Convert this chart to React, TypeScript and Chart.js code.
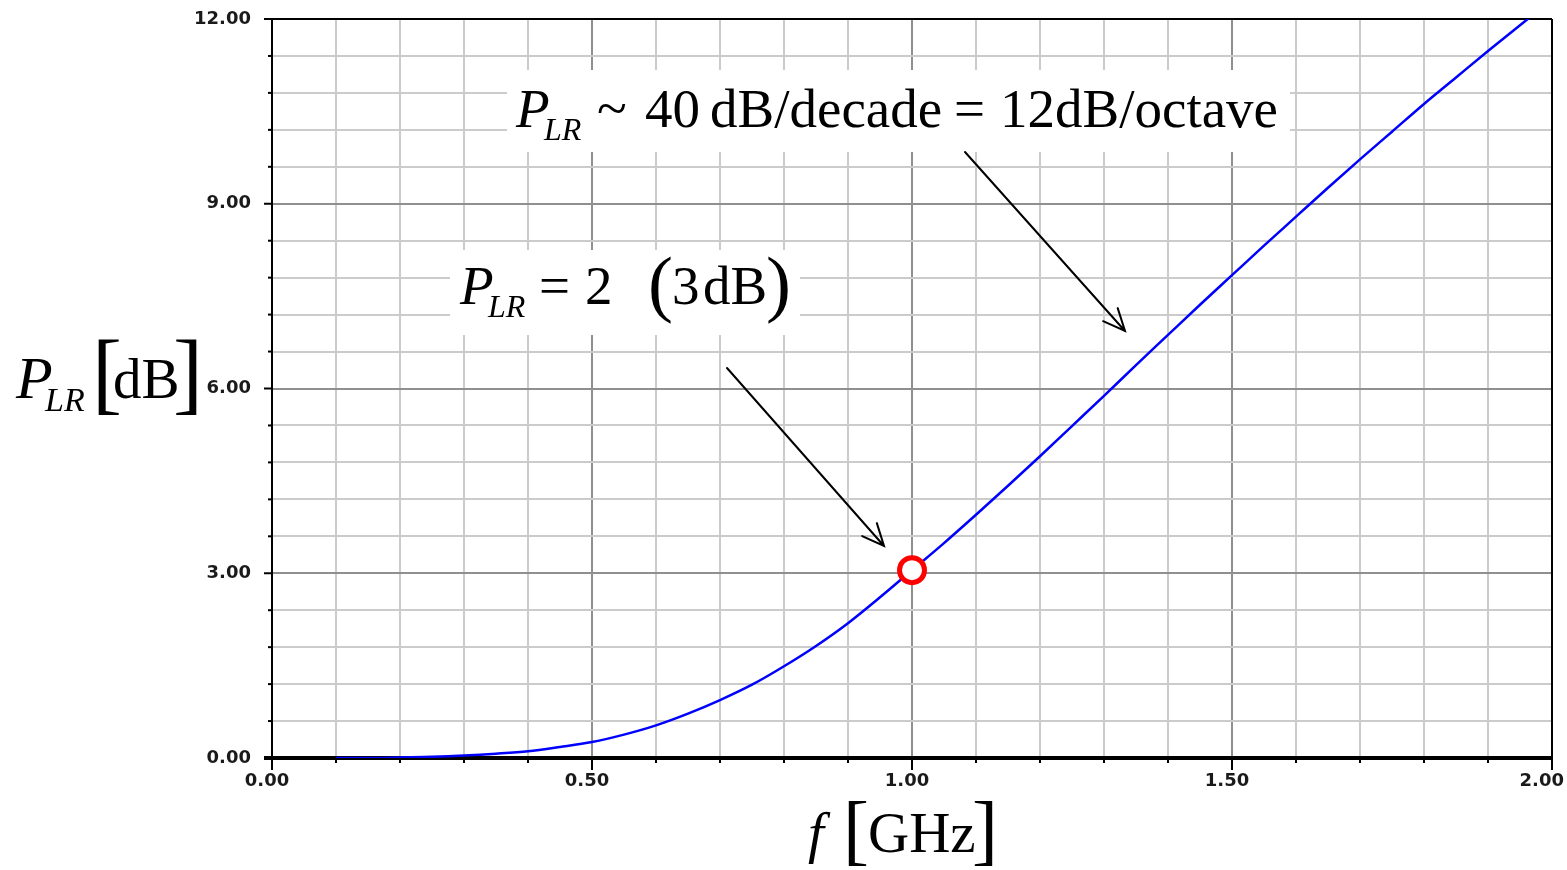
import { useEffect, useRef } from "react";
import { Chart, registerables } from "chart.js";

Chart.register(...registerables);

// Frequency samples (GHz) and the insertion-loss curve P_LR (dB)
const freqGHz = [
  0.1, 0.15, 0.2, 0.25, 0.3, 0.35, 0.4, 0.45, 0.5, 0.55, 0.6, 0.65, 0.7, 0.75,
  0.8, 0.85, 0.9, 0.95, 1.0, 1.05, 1.1, 1.15, 1.2, 1.25, 1.3, 1.35, 1.4, 1.45,
  1.5, 1.55, 1.6, 1.65, 1.7, 1.75, 1.8, 1.85, 1.9, 1.95, 2.0,
];
const plrDb = [
  0.0, 0.0, 0.01, 0.02, 0.04, 0.07, 0.11, 0.18, 0.26, 0.38, 0.53, 0.72, 0.94,
  1.19, 1.49, 1.82, 2.19, 2.61, 3.05, 3.49, 3.95, 4.42, 4.9, 5.39, 5.88, 6.38,
  6.87, 7.36, 7.84, 8.32, 8.79, 9.26, 9.72, 10.17, 10.62, 11.05, 11.48, 11.9,
  12.31,
];

// The cutoff point (P_LR = 2, i.e. 3 dB)
const markerFreq = [1.0];
const markerDb = [3.05];

// Axis labels
const xTickValues = [0, 0.5, 1.0, 1.5, 2.0];
const xTickLabels = ["0.00", "0.50", "1.00", "1.50", "2.00"];
const yTickValues = [0, 3, 6, 9, 12];
const yTickLabels = ["0.00", "3.00", "6.00", "9.00", "12.00"];

const SERIF = "'Liberation Serif', 'Times New Roman', serif";
const TICK_FONT = "bold 18px 'DejaVu Sans', sans-serif";

type Run = { t: string; x: number; y: number; font: string };

function drawRuns(ctx: CanvasRenderingContext2D, runs: Run[]) {
  ctx.fillStyle = "#000";
  ctx.textAlign = "left";
  ctx.textBaseline = "alphabetic";
  for (const r of runs) {
    ctx.font = r.font;
    ctx.fillText(r.t, r.x, r.y);
  }
}

function arrow(ctx: CanvasRenderingContext2D, x0: number, y0: number, x1: number, y1: number) {
  const ang = Math.atan2(y1 - y0, x1 - x0);
  const head = 24;
  const spread = 0.42;
  ctx.beginPath();
  ctx.moveTo(x0, y0);
  ctx.lineTo(x1, y1);
  ctx.moveTo(x1 - head * Math.cos(ang - spread), y1 - head * Math.sin(ang - spread));
  ctx.lineTo(x1, y1);
  ctx.lineTo(x1 - head * Math.cos(ang + spread), y1 - head * Math.sin(ang + spread));
  ctx.stroke();
}

const isMultiple = (v: number, step: number) => {
  const r = v / step;
  return Math.abs(r - Math.round(r)) < 1e-6;
};

const framePlugin = {
  id: "frame",
  beforeDatasetsDraw(chart: any) {
    const { ctx, chartArea: a, scales } = chart;
    const xs = scales.x;
    const ys = scales.y;
    ctx.save();
    ctx.strokeStyle = "#000";
    ctx.lineWidth = 2;
    // ticks outside the left axis
    ys.ticks.forEach((t: any) => {
      const py = ys.getPixelForValue(t.value);
      const len = isMultiple(t.value, 3) ? 8 : 4;
      ctx.beginPath();
      ctx.moveTo(a.left - len, py);
      ctx.lineTo(a.left, py);
      ctx.stroke();
    });
    // ticks below the bottom axis
    xs.ticks.forEach((t: any) => {
      const px = xs.getPixelForValue(t.value);
      const len = isMultiple(t.value, 0.5) ? 12 : 5;
      ctx.beginPath();
      ctx.moveTo(px, a.bottom);
      ctx.lineTo(px, a.bottom + len);
      ctx.stroke();
    });
    // box
    ctx.beginPath();
    ctx.moveTo(a.left, a.top);
    ctx.lineTo(a.left, a.bottom + 12);
    ctx.moveTo(a.right, a.top);
    ctx.lineTo(a.right, a.bottom + 12);
    ctx.moveTo(a.left - 8, a.top);
    ctx.lineTo(a.right, a.top);
    ctx.stroke();
    ctx.lineWidth = 4;
    ctx.beginPath();
    ctx.moveTo(a.left - 8, a.bottom);
    ctx.lineTo(a.right, a.bottom);
    ctx.stroke();
    ctx.restore();
  },
  afterDraw(chart: any) {
    const { ctx, chartArea: a, scales } = chart;
    const xs = scales.x;
    const ys = scales.y;
    ctx.save();

    // tick labels
    ctx.font = TICK_FONT;
    ctx.fillStyle = "#1a1a1a";
    ctx.textBaseline = "middle";
    ctx.textAlign = "right";
    yTickValues.forEach((v, i) => {
      ctx.fillText(yTickLabels[i], a.left - 21, ys.getPixelForValue(v));
    });
    xTickValues.forEach((v, i) => {
      const px = xs.getPixelForValue(v);
      if (i === xTickValues.length - 1) {
        ctx.textAlign = "right";
        ctx.fillText(xTickLabels[i], chart.width - 3, a.bottom + 23);
      } else {
        ctx.textAlign = "center";
        ctx.fillText(xTickLabels[i], px - 5, a.bottom + 23);
      }
    });

    // annotation panels
    ctx.fillStyle = "#fff";
    ctx.fillRect(507, 70, 783, 82);
    ctx.fillRect(450, 250, 350, 85);

    const it = (s: number) => `italic ${s}px ${SERIF}`;
    const rm = (s: number) => `${s}px ${SERIF}`;

    drawRuns(ctx, [
      { t: "P", x: 516, y: 127, font: it(55) },
      { t: "LR", x: 544, y: 140, font: it(32) },
      { t: "~", x: 597, y: 127, font: rm(55) },
      { t: "40", x: 645, y: 127, font: rm(55) },
      { t: "dB/decade", x: 710, y: 127, font: rm(55) },
      { t: "=", x: 954, y: 127, font: rm(55) },
      { t: "12dB/octave", x: 1000, y: 127, font: rm(55) },
    ]);

    drawRuns(ctx, [
      { t: "P", x: 460, y: 304, font: it(55) },
      { t: "LR", x: 488, y: 317, font: it(32) },
      { t: "=", x: 539, y: 304, font: rm(55) },
      { t: "2", x: 585, y: 304, font: rm(55) },
      { t: "(", x: 648, y: 308, font: rm(75) },
      { t: "3", x: 672, y: 304, font: rm(55) },
      { t: "dB", x: 703, y: 304, font: rm(55) },
      { t: ")", x: 766, y: 308, font: rm(75) },
    ]);

    // axis titles
    drawRuns(ctx, [
      { t: "P", x: 16, y: 398, font: it(60) },
      { t: "LR", x: 45, y: 411, font: it(34) },
      { t: "[", x: 92, y: 403, font: rm(90) },
      { t: "dB", x: 113, y: 398, font: rm(57) },
      { t: "]", x: 173, y: 403, font: rm(90) },
    ]);
    drawRuns(ctx, [
      { t: "f", x: 808, y: 852, font: it(57) },
      { t: "[", x: 843, y: 856, font: rm(78) },
      { t: "GHz", x: 868, y: 852, font: rm(57) },
      { t: "]", x: 972, y: 856, font: rm(78) },
    ]);

    // pointer arrows
    ctx.strokeStyle = "#000";
    ctx.lineWidth = 2;
    ctx.lineCap = "round";
    arrow(ctx, 965, 152, 1125, 331);
    arrow(ctx, 727, 368, 884, 546);

    ctx.restore();
  },
};

export default function App() {
  const ref = useRef<HTMLCanvasElement | null>(null);

  useEffect(() => {
    document.body.style.margin = "0";
    const canvas = ref.current;
    if (!canvas) return;
    const chart = new Chart(canvas, {
      type: "line",
      data: {
        datasets: [
          {
            type: "scatter",
            data: markerFreq.map((f, i) => ({ x: f, y: markerDb[i] })),
            pointRadius: 12.5,
            pointBorderWidth: 5,
            pointBorderColor: "#ff0000",
            pointBackgroundColor: "#ffffff",
            order: 0,
          },
          {
            data: freqGHz.map((f, i) => ({ x: f, y: plrDb[i] })),
            borderColor: "#0000ff",
            borderWidth: 2.5,
            pointRadius: 0,
            cubicInterpolationMode: "monotone",
            fill: false,
            order: 1,
          },
        ],
      },
      options: {
        responsive: false,
        animation: false,
        events: [],
        layout: { autoPadding: false, padding: { left: 272, top: 19, right: 15, bottom: 112 } },
        plugins: { legend: { display: false }, tooltip: { enabled: false } },
        scales: {
          x: {
            type: "linear",
            min: 0,
            max: 2,
            ticks: { display: false, stepSize: 0.1 },
            border: { display: false },
            grid: {
              drawTicks: false,
              lineWidth: 2,
              color: (c: any) => (isMultiple(c.tick.value, 0.5) ? "#8f8f8f" : "#cbcbcb"),
            },
          },
          y: {
            type: "linear",
            min: 0,
            max: 12,
            ticks: { display: false, stepSize: 0.6 },
            border: { display: false },
            grid: {
              drawTicks: false,
              lineWidth: 2,
              color: (c: any) => (isMultiple(c.tick.value, 3) ? "#8f8f8f" : "#cbcbcb"),
            },
          },
        },
      },
      plugins: [framePlugin],
    });
    return () => chart.destroy();
  }, []);

  return (
    <div style={{ position: "fixed", left: 0, top: 0, width: 1567, height: 870, background: "#fff" }}>
      <canvas ref={ref} width={1567} height={870} style={{ display: "block" }} />
    </div>
  );
}
